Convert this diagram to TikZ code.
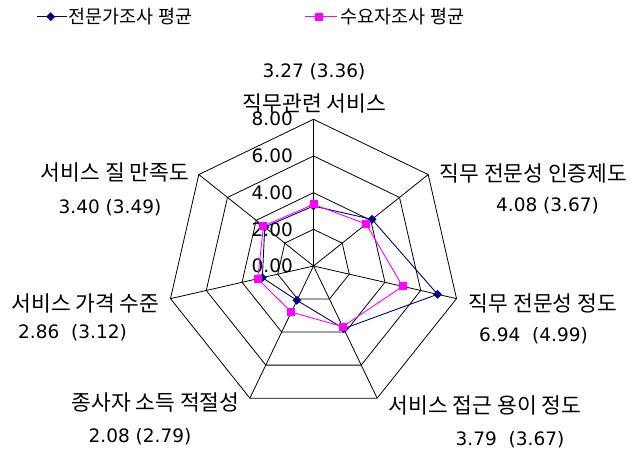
\documentclass[tikz,border=0pt]{standalone}
\usepackage{fontspec}
\setmainfont{Noto Sans CJK KR}
\newfontfamily\numfont{DejaVu Sans}
\usetikzlibrary{shapes,arrows}
\usetikzlibrary{positioning}
\definecolor{expcol}{RGB}{0,0,128}
\definecolor{usrcol}{RGB}{255,0,255}
\tikzstyle{axisname} = [inner sep=0pt, font=\fontsize{21.5}{24}\selectfont]
\tikzstyle{axisval} = [inner sep=0pt, font=\numfont\fontsize{18.5}{20}\selectfont]
\tikzstyle{scaleval} = [inner sep=0pt, anchor=east, font=\numfont\fontsize{18.5}{20}\selectfont]
\tikzstyle{legendtext} = [inner sep=0pt, anchor=west, font=\fontsize{18.5}{20}\selectfont]
\tikzstyle{expmark} = [diamond, fill=expcol, inner sep=0pt, minimum size=9pt]
\tikzstyle{usrmark} = [rectangle, fill=usrcol, inner sep=0pt, minimum size=8pt]
\tikzstyle{gridline} = [black, line width=0.8pt]

\begin{document}
\begin{tikzpicture}[x=1pt, y=1pt]
   \useasboundingbox (0,0) rectangle (632,453);
   \coordinate (o) at (313.5,187);

   % Grid
   \foreach \r in {36.7,73.3,110,146.7}
      \draw[gridline, shift={(o)}] (90:\r) \foreach \k in {1,...,6} { -- (90-\k*360/7:\r) } -- cycle;
   \foreach \k in {0,...,6}
      \draw[gridline] (o) -- ++(90-\k*360/7:146.7);

   % Scale values
   \foreach \v [count=\i from 0] in {0.00,2.00,4.00,6.00,8.00}
      \path (o) ++(-20.5,\i*36.7) node[scaleval] (s\i) {\v};

   % Data points
   \foreach \v [count=\k from 0] in {3.27,4.08,6.94,3.79,2.08,2.86,3.40}
      \path (o) ++(90-\k*360/7:\v*18.34) coordinate (e\k);
   \foreach \v [count=\k from 0] in {3.36,3.67,4.99,3.67,2.79,3.12,3.49}
      \path (o) ++(90-\k*360/7:\v*18.34) coordinate (u\k);

   \draw[expcol, line width=0.9pt] (e0) -- (e1) -- (e2) -- (e3) -- (e4) -- (e5) -- (e6) -- cycle;
   \foreach \k in {0,...,6} \node[expmark] at (e\k) {};
   \draw[usrcol, line width=0.9pt] (u0) -- (u1) -- (u2) -- (u3) -- (u4) -- (u5) -- (u6) -- cycle;
   \foreach \k in {0,...,6} \node[usrmark] at (u\k) {};

   % Place nodes
   \node[axisname] (n1) at (314.5,350) {직무관련 서비스};
   \node[axisval] (v1) at (314,381) {3.27 (3.36)};
   \node[axisname] (n2) at (533.5,280) {직무 전문성 인증제도};
   \node[axisval] (v2) at (547.5,247) {4.08 (3.67)};
   \node[axisname] (n3) at (543,150) {직무 전문성 정도};
   \node[axisval] (v3) at (533.5,117) {6.94 \ (4.99)};
   \node[axisname] (n4) at (485,48) {서비스 접근 용이 정도};
   \node[axisval] (v4) at (510,13) {3.79 \ (3.67)};
   \node[axisname] (n5) at (155.5,51) {종사자 소득 적절성};
   \node[axisval] (v5) at (140,16) {2.08 (2.79)};
   \node[axisname] (n6) at (85.5,150) {서비스 가격 수준};
   \node[axisval] (v6) at (72.5,120) {2.86 \ (3.12)};
   \node[axisname] (n7) at (115,281) {서비스 질 만족도};
   \node[axisval] (v7) at (110,245) {3.40 (3.49)};

   % Legend
   \coordinate (la) at (36.7,436.3);
   \coordinate (lb) at (66.7,436.3);
   \draw[expcol, line width=0.9pt] (la) -- (lb);
   \node[expmark] (lm1) at (50.7,436.3) {};
   \node[legendtext, right = 2pt of lb] (l1) {전문가조사 평균};
   \coordinate (lc) at (305,436.3);
   \coordinate (ld) at (336.7,436.3);
   \draw[usrcol, line width=0.9pt] (lc) -- (ld);
   \node[usrmark] (lm2) at (319.3,436.3) {};
   \node[legendtext, right = 4pt of ld] (l2) {수요자조사 평균};
\end{tikzpicture}
\end{document}
